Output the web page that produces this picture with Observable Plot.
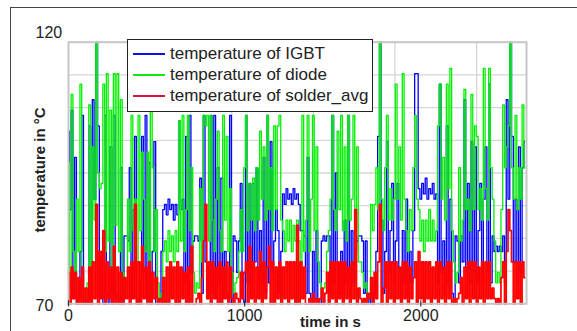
<!DOCTYPE html>
<html>
<head>
<meta charset="utf-8">
<script src="https://cdn.jsdelivr.net/npm/d3@7"></script>
<script src="https://cdn.jsdelivr.net/npm/@observablehq/plot@0.6"></script>
<style>
  body { margin: 0; background: #fff; font-family: "Liberation Sans", Arial, sans-serif; }
  #wrap { position: relative; width: 577px; height: 331px; overflow: hidden; background: #fff; }
  #border { position: absolute; left: 10px; top: 7px; width: 700px; height: 500px;
            border-left: 1px solid #444; border-top: 1px solid #444; }
  #chart { position: absolute; left: 0; top: 0; }
  #legend { position: absolute; left: 127px; top: 39px; width: 246px; height: 73px;
            background: #fff; border: 1.5px solid #222; box-sizing: border-box; }
  .lg-line { position: absolute; left: 5px; width: 32px; height: 2px; }
  .lg-text { position: absolute; left: 42px; font-size: 17px; color: #222; line-height: 20px; white-space: nowrap; }
</style>
</head>
<body>
<div id="wrap">
  <div id="border"></div>
  <div id="chart"></div>
  <div id="legend"></div>
</div>
<script>
// ---- data (one sample every dt seconds) ----
const dt = 10; // s
const seriesNames = ["temperature of IGBT", "temperature of diode", "temperature of solder_avg"];
const seriesColors = ["#0000ff", "#00f000", "#ff0000"];
const seriesWidths = [1.3, 1.3, 1.7];
const legendColors = ["#1010ee", "#10e810", "#d8103c"];

const igbt = [
  103,88,107,71,98,70,71,80,106,70, 71,70,104,70,109,90,120,104,71,80,
  70,106,72,70,100,70,106,71,72,70, 96,70,83,83,82,96,71,88,102,71,
  70,74,102,76,106,71,97,70,80,101, 70,70,71,80,88,89,87,90,88,89,
  86,89,87,105,88,90,74,102,72,106, 76,82,83,83,82,94,72,106,78,71,
  76,106,72,106,71,96,74,94,71,80, 72,71,106,70,83,82,76,82,93,71,
  70,106,74,93,72,93,78,96,72,84, 74,98,72,106,74,101,76,82,88,84,
  72,80,91,89,92,90,91,89,92,90, 91,89,84,84,83,72,98,72,71,80,
  71,84,70,70,82,83,82,83,83,72, 106,74,95,78,72,80,72,86,74,106,
  72,84,74,80,82,83,83,82,72,82, 71,70,74,70,72,80,102,120,86,72,
  80,101,76,84,93,74,82,93,76,72, 84,74,90,72,80,74,84,114,114,92,
  90,93,91,94,90,92,91,93,90,91, 74,112,76,82,72,104,74,90,72,71,
  83,82,74,83,78,109,76,93,74,101, 76,100,74,84,93,74,90,100,76,112,
  74,83,80,81,80,81,80,83,74,109, 90,120,102,78,90,74,100,76,96,101
];
const diode = [
  97,74,110,80,74,90,80,112,76,72, 71,74,108,77,100,86,120,95,92,93,
  112,80,114,82,107,76,114,85,114,80, 109,76,74,72,90,80,106,84,90,78,
  106,84,99,90,80,99,78,108,96,80, 88,74,71,72,80,82,78,84,80,83,
  78,84,80,105,82,106,80,88,106,84, 96,76,72,74,73,92,78,106,104,106,
  82,106,86,80,90,103,84,80,106,86, 102,80,92,76,72,74,75,80,88,80,
  96,106,84,93,86,94,84,96,86,103, 90,100,86,106,88,96,84,104,88,104,
  106,86,84,80,86,82,86,80,85,82, 86,82,76,106,80,86,106,80,90,106,
  84,100,78,74,72,73,74,80,84,90, 106,88,84,103,88,106,84,100,82,106,
  86,90,106,84,100,78,78,76,73,74, 72,71,89,84,89,96,88,120,90,84,
  96,106,86,92,86,90,112,90,100,86, 114,90,84,80,88,84,96,106,90,88,
  82,86,80,86,82,88,82,86,82,84, 104,112,90,98,86,112,92,115,84,78,
  74,76,96,82,86,111,88,90,84,110, 88,104,102,88,92,86,115,92,86,115,
  96,90,82,74,76,74,88,108,96,100, 104,120,96,90,106,88,96,90,108,96
];
const solder = [
  76,70,77,71,76,70,75,70,77,70, 73,70,77,70,78,71,89,70,80,71,
  84,70,78,71,77,70,81,70,77,70, 76,70,75,71,77,70,78,71,89,70,
  78,70,81,71,77,70,78,70,76,71, 75,70,71,70,75,70,77,70,78,71,
  77,70,78,70,77,71,76,70,77,70, 81,70,70,71,72,70,75,82,89,71,
  78,70,78,71,77,70,78,70,77,71, 78,70,77,71,70,72,71,70,76,71,
  76,78,70,81,71,78,70,77,71,80, 70,78,71,77,81,70,78,70,77,71,
  78,70,77,71,78,70,78,71,78,70, 85,70,78,71,77,70,70,71,70,72,
  70,71,70,71,73,70,72,76,70,78, 71,78,70,78,71,78,70,78,71,77,
  70,78,71,88,70,73,71,70,71,70, 72,71,75,70,76,71,78,89,70,73,
  78,70,78,71,78,70,78,71,77,70, 78,71,78,70,77,71,75,78,70,80,
  71,78,70,78,71,78,70,77,71,78, 70,78,71,77,70,78,71,78,70,71,
  70,71,72,75,70,77,71,78,70,78, 71,78,70,77,71,78,70,78,71,78,
  71,73,71,70,71,70,75,78,70,80, 88,84,78,70,78,71,78,70,78,75
];

const xDomain = [0, 2600];
const xTicks = [0, 1000, 2000];
const xTickLabels = ["0", "1000", "2000"];
const xGrid = [463, 927, 1390, 1853, 2317];
const yGrid = [76.25, 82.5, 88.75, 95, 101.25, 107.5, 113.75];
const yTop = [120], yTopLabel = ["120"];
const yBottom = [70], yBottomLabel = ["70"];
const xTitle = ["time in s"];
const yTitle = ["temperature in °C"];

const series = [igbt, diode, solder];

const chart = Plot.plot({
  width: 577,
  height: 331,
  marginLeft: 68, marginRight: 51, marginTop: 41.7, marginBottom: 27.7,
  x: {domain: xDomain, axis: null},
  y: {domain: [70, 120], axis: null},
  style: {fontFamily: "'Liberation Sans', Arial, sans-serif", fontSize: "16px", background: "transparent", overflow: "visible"},
  marks: [
    Plot.ruleY(yGrid, {y: d => d, stroke: "#d6d6d6", strokeWidth: 1.3}),
    Plot.ruleX(xGrid, {x: d => d, stroke: "#d6d6d6", strokeWidth: 1.3}),
    ...series.map((s, k) => Plot.line(s, {x: (d, i) => i * dt, y: d => d, stroke: seriesColors[k], strokeWidth: seriesWidths[k], curve: "step"})),
    Plot.frame({stroke: "#c6c6c6", strokeWidth: 2}),
    Plot.ruleX(xTicks, {x: d => d, y1: 69.4, y2: 70.6, stroke: "#333", strokeWidth: 1.2}),
    Plot.text(xTicks, {x: d => d, y: () => 70, text: (d, i) => xTickLabels[i], dy: 12, fill: "#222", fontSize: 16}),
    Plot.text(yTop, {y: d => d, frameAnchor: "left", text: (d, i) => yTopLabel[i], dx: -33, dy: -9, textAnchor: "start", lineAnchor: "middle", fill: "#222", fontSize: 16}),
    Plot.text(yBottom, {y: d => d, frameAnchor: "left", text: (d, i) => yBottomLabel[i], dx: -33, dy: 2.5, textAnchor: "start", lineAnchor: "middle", fill: "#222", fontSize: 16}),
    Plot.text(xTitle, {frameAnchor: "bottom", text: d => d, dx: 33, dy: 18.5, textAnchor: "middle", lineAnchor: "middle", fontWeight: "bold", fill: "#222", fontSize: 15}),
    Plot.text(yTitle, {frameAnchor: "left", text: d => d, rotate: -90, dx: -28.5, dy: -3, textAnchor: "middle", lineAnchor: "middle", fontWeight: "bold", fill: "#222", fontSize: 15})
  ]
});
document.getElementById("chart").appendChild(chart);

// legend
const legend = document.getElementById("legend");
const rowY = [15.3, 36, 57.7];
seriesNames.forEach((name, k) => {
  const ln = document.createElement("div");
  ln.className = "lg-line";
  ln.style.top = (rowY[k] - 2.5) + "px";
  ln.style.background = legendColors[k];
  legend.appendChild(ln);
  const tx = document.createElement("div");
  tx.className = "lg-text";
  tx.style.top = (rowY[k] - 10 - 1.5) + "px";
  tx.textContent = name;
  legend.appendChild(tx);
});
</script>
</body>
</html>
